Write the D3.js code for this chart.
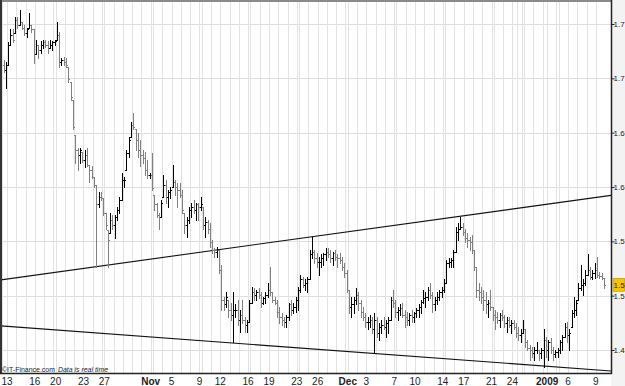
<!DOCTYPE html>
<html><head><meta charset="utf-8">
<script src="https://cdn.jsdelivr.net/npm/d3@7"></script>
<style>body{margin:0;background:#fff}svg{display:block}text{font-family:Arial,"Liberation Sans",sans-serif}</style>
</head><body><svg id="c" width="625" height="386"></svg>
<script>
// ---- DATA (GBP/USD, bars of ~6h, 12 Oct 2008 - 9 Jan 2009) ----
const high = [1.717,1.715,1.733,1.745,1.745,1.756,1.756,1.763,1.752,1.749,
1.746,1.760,1.749,1.745,1.735,1.731,1.734,1.735,1.735,1.734,
1.735,1.734,1.735,1.752,1.743,1.719,1.720,1.719,1.710,1.697,
1.680,1.648,1.636,1.636,1.632,1.634,1.636,1.620,1.619,1.609,
1.602,1.595,1.595,1.590,1.576,1.560,1.576,1.574,1.574,1.582,
1.591,1.613,1.609,1.634,1.646,1.660,1.668,1.653,1.650,1.643,
1.634,1.632,1.625,1.613,1.631,1.593,1.585,1.576,1.588,1.611,
1.606,1.597,1.600,1.620,1.606,1.604,1.604,1.597,1.576,1.572,
1.582,1.585,1.588,1.585,1.585,1.591,1.582,1.572,1.570,1.567,
1.551,1.544,1.545,1.542,1.528,1.499,1.503,1.496,1.493,1.503,
1.492,1.496,1.487,1.496,1.480,1.478,1.496,1.508,1.507,1.505,
1.507,1.503,1.499,1.503,1.512,1.526,1.503,1.499,1.496,1.490,
1.484,1.480,1.482,1.493,1.496,1.493,1.499,1.508,1.519,1.517,
1.515,1.517,1.542,1.554,1.542,1.539,1.536,1.538,1.539,1.544,
1.544,1.542,1.540,1.542,1.538,1.539,1.536,1.530,1.524,1.505,
1.499,1.499,1.507,1.503,1.496,1.490,1.484,1.480,1.482,1.480,
1.484,1.480,1.475,1.478,1.480,1.478,1.480,1.499,1.505,1.496,
1.490,1.492,1.493,1.487,1.485,1.484,1.487,1.485,1.489,1.492,
1.496,1.505,1.503,1.508,1.512,1.503,1.499,1.503,1.505,1.508,
1.515,1.533,1.535,1.535,1.542,1.563,1.567,1.572,1.567,1.561,
1.558,1.554,1.556,1.542,1.526,1.512,1.508,1.505,1.503,1.496,
1.505,1.490,1.487,1.485,1.484,1.487,1.482,1.480,1.480,1.478,
1.478,1.475,1.471,1.469,1.478,1.469,1.459,1.455,1.453,1.453,
1.457,1.450,1.452,1.469,1.462,1.459,1.461,1.453,1.450,1.452,
1.459,1.464,1.475,1.476,1.469,1.487,1.499,1.496,1.512,1.528,
1.515,1.524,1.538,1.526,1.524,1.530,1.536,1.522,1.521,1.516];
const low = [1.706,1.691,1.712,1.731,1.733,1.742,1.746,1.749,1.745,1.740,
1.738,1.746,1.743,1.714,1.722,1.719,1.723,1.728,1.729,1.723,
1.728,1.726,1.731,1.735,1.710,1.712,1.712,1.710,1.697,1.680,
1.653,1.622,1.616,1.622,1.623,1.618,1.619,1.605,1.608,1.600,
1.526,1.582,1.588,1.574,1.561,1.526,1.558,1.561,1.553,1.570,
1.576,1.588,1.600,1.616,1.628,1.646,1.653,1.634,1.628,1.619,
1.622,1.611,1.608,1.608,1.597,1.579,1.572,1.561,1.572,1.591,
1.585,1.582,1.590,1.600,1.593,1.582,1.591,1.576,1.558,1.554,
1.567,1.572,1.576,1.570,1.570,1.579,1.561,1.554,1.558,1.545,
1.539,1.536,1.536,1.521,1.487,1.487,1.490,1.480,1.478,1.457,
1.480,1.473,1.467,1.475,1.467,1.467,1.476,1.493,1.496,1.496,
1.498,1.490,1.492,1.493,1.499,1.501,1.494,1.492,1.480,1.475,
1.473,1.471,1.471,1.478,1.482,1.484,1.485,1.487,1.503,1.508,
1.505,1.503,1.515,1.535,1.530,1.526,1.519,1.526,1.528,1.533,
1.536,1.531,1.528,1.533,1.526,1.530,1.524,1.517,1.503,1.484,
1.480,1.484,1.492,1.487,1.480,1.478,1.471,1.469,1.471,1.466,
1.447,1.462,1.459,1.466,1.469,1.462,1.466,1.478,1.490,1.480,
1.478,1.482,1.480,1.471,1.473,1.473,1.476,1.476,1.480,1.480,
1.484,1.493,1.490,1.496,1.498,1.485,1.487,1.492,1.496,1.499,
1.503,1.512,1.526,1.526,1.526,1.540,1.551,1.561,1.556,1.549,
1.545,1.542,1.539,1.524,1.499,1.496,1.493,1.487,1.484,1.480,
1.487,1.478,1.469,1.475,1.471,1.478,1.471,1.467,1.471,1.466,
1.469,1.462,1.459,1.457,1.466,1.453,1.450,1.441,1.444,1.441,
1.447,1.441,1.443,1.434,1.444,1.441,1.447,1.441,1.444,1.444,
1.447,1.450,1.462,1.457,1.450,1.471,1.480,1.482,1.496,1.505,
1.501,1.510,1.519,1.515,1.515,1.516,1.517,1.516,1.515,1.507];
const close = [1.708,1.712,1.731,1.740,1.735,1.754,1.749,1.752,1.746,1.742,
1.745,1.749,1.745,1.722,1.731,1.726,1.731,1.733,1.731,1.728,
1.731,1.733,1.734,1.740,1.715,1.717,1.715,1.712,1.699,1.683,
1.655,1.634,1.629,1.634,1.625,1.629,1.620,1.616,1.609,1.602,
1.584,1.591,1.590,1.576,1.565,1.551,1.570,1.565,1.572,1.579,
1.588,1.606,1.606,1.631,1.643,1.657,1.655,1.643,1.634,1.629,
1.627,1.616,1.611,1.611,1.599,1.584,1.574,1.572,1.585,1.602,
1.591,1.595,1.597,1.605,1.600,1.597,1.593,1.579,1.565,1.570,
1.579,1.582,1.579,1.584,1.582,1.584,1.565,1.568,1.561,1.549,
1.542,1.540,1.542,1.524,1.496,1.492,1.499,1.487,1.482,1.487,
1.487,1.478,1.482,1.478,1.473,1.476,1.493,1.503,1.501,1.503,
1.501,1.493,1.498,1.501,1.505,1.503,1.496,1.493,1.485,1.480,
1.478,1.476,1.480,1.492,1.487,1.490,1.496,1.505,1.515,1.510,
1.512,1.515,1.538,1.540,1.535,1.531,1.531,1.535,1.538,1.540,
1.538,1.535,1.539,1.536,1.535,1.533,1.526,1.521,1.505,1.490,
1.492,1.496,1.501,1.493,1.485,1.480,1.476,1.476,1.478,1.469,
1.478,1.466,1.471,1.473,1.471,1.475,1.478,1.496,1.493,1.485,
1.487,1.489,1.482,1.480,1.478,1.482,1.480,1.484,1.487,1.490,
1.494,1.498,1.499,1.505,1.501,1.492,1.496,1.499,1.503,1.505,
1.512,1.530,1.531,1.533,1.540,1.559,1.561,1.563,1.559,1.553,
1.551,1.549,1.542,1.526,1.505,1.503,1.499,1.496,1.492,1.493,
1.490,1.482,1.480,1.478,1.482,1.480,1.475,1.478,1.473,1.475,
1.471,1.466,1.464,1.466,1.469,1.457,1.452,1.450,1.447,1.450,
1.450,1.447,1.450,1.459,1.450,1.457,1.450,1.446,1.448,1.450,
1.457,1.462,1.471,1.464,1.466,1.484,1.487,1.493,1.507,1.510,
1.512,1.519,1.524,1.517,1.521,1.524,1.519,1.518,1.516,1.510];
const firstOpen = 1.712;
// bars per trading session (Sundays are short sessions)
const sessionBars = [2, 4,4,4,4,4, 1, 4,4,4,4,4, 1, 4,4,4,4,4, 1, 4,4,4,4,4, 1, 4,4,4,4,4,
  1, 4,4,4,4,4, 1, 4,4,4,4,4, 1, 4,4,4,4,4, 1, 4,4,4,4,4, 1, 4,4,4,4,4,
  1, 4,4,2,2, 1, 4,4,2,4, 1, 4,4,4,4,4];
const xTickBars   = [2,14,23,35,44,64,73,85,94,106,115,127,136,149,157,169,178,190,199,211,220,235,244,256];
const xTickLabels = ["13","16","20","23","27","Nov","5","9","12","16","19","23","26","Dec","3","7","10","14","17","21","24","2009","6","9"];
const boldLabels  = ["Nov","Dec","2009"];
const yTicks      = [1.45,1.50,1.55,1.60,1.65,1.70,1.75];
const yTickLabels = ["1.4","1.5","1.5","1.6","1.6","1.7","1.7"];
const trendUpper  = [[-2,1.5143],[262,1.5923]];
const trendLower  = [[-2,1.4723],[262,1.4307]];
const lastPriceLabel = "1.5";
const watermark1 = "\u00A9IT-Finance.com";
const watermark2 = "Data is real time";

// ---- CHART ----
const svg = d3.select("#c");
const P = {l:1, r:611, t:2, b:373};
const x = d3.scaleLinear().domain([0,259]).range([3.5,604]);
const y = d3.scaleLinear().domain([1.45,1.75]).range([350,24]);

svg.append("rect").attr("x",0).attr("y",0).attr("width",625).attr("height",386).attr("fill","#fff");
svg.append("rect").attr("x",P.r).attr("y",0).attr("width",625-P.r).attr("height",386).attr("fill","#f3f3f3");

svg.append("defs").append("clipPath").attr("id","clip")
  .append("rect").attr("x",P.l).attr("y",P.t).attr("width",P.r-P.l).attr("height",P.b-P.t);

const g = svg.append("g").attr("clip-path","url(#clip)");

// horizontal grid
g.selectAll("line.hg").data(yTicks).join("line")
  .attr("x1",P.l).attr("x2",P.r)
  .attr("y1",d=>Math.round(y(d))+0.5).attr("y2",d=>Math.round(y(d))+0.5)
  .attr("stroke","#dedede").attr("stroke-width",1);

// vertical grid at each session start
const starts = [];
let acc = 0;
sessionBars.forEach(n=>{starts.push(acc); acc+=n;});
g.selectAll("line.vg").data(starts).join("line")
  .attr("x1",d=>Math.round(x(d-0.5))+0.5).attr("x2",d=>Math.round(x(d-0.5))+0.5)
  .attr("y1",P.t).attr("y2",P.b)
  .attr("stroke","#e2e2e2").attr("stroke-width",1);

// trend lines
[trendUpper, trendLower].forEach(tl=>{
  g.append("line")
    .attr("x1",x(tl[0][0])).attr("y1",y(tl[0][1]))
    .attr("x2",x(tl[1][0])).attr("y2",y(tl[1][1]))
    .attr("stroke","#111").attr("stroke-width",1.1);
});

// OHLC bars
const bars = high.map((h,i)=>{
  let o = i===0 ? firstOpen : close[i-1];
  o = Math.max(low[i], Math.min(h, o));
  return {i, h, l:low[i], o, c:close[i]};
});
g.selectAll("path.bar").data(bars).join("path")
  .attr("d",d=>{
    const xx = Math.round(x(d.i))+0.5;
    const yh = Math.round(y(d.h)), yl = Math.round(y(d.l))+1;
    const yo = Math.round(y(d.o))+0.5, yc = Math.round(y(d.c))+0.5;
    return `M${xx},${yh}V${yl}M${xx-1.5},${yo}H${xx}M${xx},${yc}H${xx+1.5}`;
  })
  .attr("fill","none")
  .attr("stroke",d=>d.c>=d.o ? "#000" : "#808080")
  .attr("stroke-width",1)
  .attr("shape-rendering","crispEdges");

// frame
svg.append("line").attr("x1",0).attr("x2",P.r).attr("y1",1).attr("y2",1).attr("stroke","#8a8a8a").attr("stroke-width",2);
svg.append("line").attr("x1",1).attr("x2",1).attr("y1",0).attr("y2",P.b).attr("stroke","#333").attr("stroke-width",2);

// right axis
const yAxis = d3.axisRight(y).tickValues(yTicks).tickSize(3).tickPadding(0)
  .tickFormat((d,i)=>yTickLabels[i]);
const ya = svg.append("g").attr("transform",`translate(${P.r+0.5},0)`).call(yAxis);
ya.select(".domain").attr("stroke","#222").attr("stroke-width",1.5).attr("d",`M0,0V${P.b+1}`);
ya.selectAll(".tick line").attr("stroke","#222");
ya.selectAll(".tick text").attr("fill","#222").attr("font-size",8)
  .attr("x",2)
  .attr("font-family","Arial, 'Liberation Sans', sans-serif");

// bottom axis line
svg.append("line").attr("x1",0).attr("x2",P.r+1).attr("y1",P.b+0.5).attr("y2",P.b+0.5).attr("stroke","#222").attr("stroke-width",1.5);

// x labels
svg.selectAll("text.xl").data(xTickBars).join("text")
  .attr("x",(d,i)=>Math.max(7, x(d-0.5)))
  .attr("y",385)
  .attr("text-anchor","middle")
  .attr("font-size",10)
  .attr("font-weight",(d,i)=>boldLabels.includes(xTickLabels[i])?"bold":"normal")
  .attr("fill","#222")
  .text((d,i)=>xTickLabels[i]);

// last price marker
const lastY = y(close[close.length-1]);
svg.append("rect").attr("x",P.r+2).attr("y",lastY-6.5).attr("width",11.5).attr("height",13)
  .attr("fill","#f7c500").attr("stroke","#b38f00").attr("stroke-width",0.6);
svg.append("text").attr("x",P.r+2.5).attr("y",lastY+3).attr("font-size",8).attr("fill","#222")
  .text(lastPriceLabel);

// watermark
svg.append("text").attr("x",2).attr("y",371.5).attr("font-size",7.5).attr("fill","#222")
  .attr("textLength",53).attr("lengthAdjust","spacingAndGlyphs").text(watermark1);
svg.append("text").attr("x",58).attr("y",371.5).attr("font-size",7.5).attr("fill","#222").attr("font-style","italic")
  .attr("textLength",50).attr("lengthAdjust","spacingAndGlyphs").text(watermark2);
</script></body></html>
